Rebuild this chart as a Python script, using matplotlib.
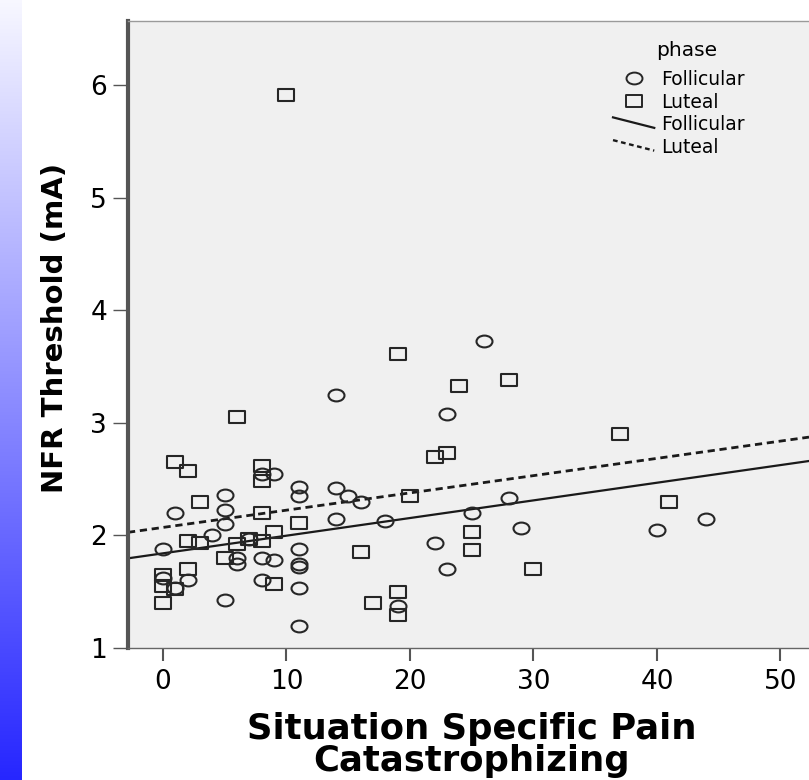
import numpy as np
import matplotlib
matplotlib.use("Agg")
import matplotlib.pyplot as plt
from matplotlib import font_manager
from matplotlib.lines import Line2D
from matplotlib.path import Path
from matplotlib.transforms import Affine2D
from matplotlib.legend_handler import HandlerLine2D

# data
foll_x = [0, 0, 1, 1, 2, 4, 5, 5, 5, 5, 6, 6, 7, 8, 8, 8, 9, 9, 11, 11, 11, 11, 11,
          11, 11, 14, 14, 14, 15, 16, 18, 19, 22, 23, 23, 25, 26, 28, 29, 40, 44]
foll_y = [1.88, 1.62, 2.20, 1.53, 1.60, 2.00, 2.36, 2.23, 2.10, 1.43, 1.80, 1.75,
          1.97, 2.55, 1.80, 1.60, 2.55, 1.78, 2.43, 2.35, 1.88, 1.75, 1.72, 1.53,
          1.195, 3.25, 2.42, 2.15, 2.35, 2.30, 2.13, 1.37, 1.93, 3.08, 1.70, 2.20,
          3.73, 2.33, 2.07, 2.05, 2.15]

lut_x = [0, 0, 0, 1, 1, 2, 2, 2, 3, 3, 5, 6, 6, 7, 8, 8, 8, 8, 9, 9, 10, 11, 16,
         17, 19, 19, 19, 20, 22, 23, 24, 25, 25, 28, 30, 37, 41]
lut_y = [1.65, 1.55, 1.40, 2.65, 1.52, 2.57, 1.95, 1.70, 2.30, 1.93, 1.80, 3.05,
         1.92, 1.97, 2.62, 2.48, 2.20, 1.95, 2.03, 1.57, 5.91, 2.11, 1.85, 1.40,
         3.61, 1.50, 1.29, 2.35, 2.70, 2.73, 3.33, 2.03, 1.87, 3.38, 1.70, 2.90, 2.30]

# fit lines (intercept, slope) as drawn in the chart
foll_fit = (1.841, 0.01568)
lut_fit = (2.071, 0.01534)

x_ticks = [0, 10, 20, 30, 40, 50]
y_ticks = [1, 2, 3, 4, 5, 6]
x_lim = (-2.83, 52.31)
y_lim = (1.0, 6.57)

W, H = 809, 780
plt.rcParams['font.family'] = 'DejaVu Sans'

installed = {f.name for f in font_manager.fontManager.ttflist}
if 'Liberation Sans Narrow' in installed:
    ylab_font, ylab_size = 'Liberation Sans Narrow', 29
else:
    ylab_font, ylab_size = 'DejaVu Sans', 21


class SlopedLine(HandlerLine2D):
    # legend line drawn on a slant, like the SPSS legend
    def create_artists(self, legend, orig_handle, xdescent, ydescent,
                       width, height, fontsize, trans):
        xs = [-xdescent, -xdescent + width]
        ys = [-ydescent + height * 1.0, -ydescent + height * 0.2]
        line = Line2D(xs, ys)
        self.update_prop(line, orig_handle, legend)
        line.set_marker('None')
        line.set_transform(trans)
        return [line]


ellipse = Affine2D().scale(1, 0.74).transform_path(Path.unit_circle())
box = Path([(-1, -0.76), (1, -0.76), (1, 0.76), (-1, 0.76), (-1, -0.76)], closed=True)

fig = plt.figure(figsize=(W / 100, H / 100), dpi=100)

# blue gradient strip on the left edge
strip = fig.add_axes([0, 0, 22 / W, 1])
t = np.linspace(0, 1, 256)[:, None]
top = np.array([0.97, 0.97, 1.0])
bot = np.array([0.15, 0.15, 1.0])
grad = top[None, None, :] * (1 - t[..., None]) + bot[None, None, :] * t[..., None]
strip.imshow(grad, aspect='auto', interpolation='bilinear')
strip.axis('off')

ax = fig.add_axes([128 / W, 1 - 648 / H, 681 / W, 627 / H])
ax.set_facecolor('#f0f0f0')

edge = '#262626'
ax.plot(foll_x, foll_y, linestyle='none', marker=ellipse, markersize=11.5,
        markerfacecolor='none', markeredgecolor=edge, markeredgewidth=1.5, zorder=3)
ax.plot(lut_x, lut_y, linestyle='none', marker=box, markersize=12.2,
        markerfacecolor='none', markeredgecolor=edge, markeredgewidth=1.5, zorder=3)

xx = np.array(x_lim)
ax.plot(xx, foll_fit[0] + foll_fit[1] * xx, color='#1a1a1a', lw=1.6, zorder=2)
ax.plot(xx, lut_fit[0] + lut_fit[1] * xx, color='#1a1a1a', lw=2.0,
        linestyle=(0, (2.6, 1.7)), zorder=2)

ax.set_xlim(*x_lim)
ax.set_ylim(*y_lim)
ax.set_xticks(x_ticks)
ax.set_yticks(y_ticks)

ax.spines['right'].set_visible(False)
ax.spines['left'].set_linewidth(3.0)
ax.spines['left'].set_color('#555555')
ax.spines['top'].set_linewidth(1.0)
ax.spines['top'].set_color('#9a9a9a')
ax.spines['bottom'].set_linewidth(1.0)
ax.spines['bottom'].set_color('#666666')

ax.tick_params(axis='y', direction='out', length=11, width=1.0, color='#555555',
               pad=4, labelsize=19, labelcolor='black')
ax.tick_params(axis='x', direction='out', length=9, width=1.5, color='#555555',
               pad=6, labelsize=19, labelcolor='black')

# legend (title placed as its own text to match the gap below it)
handles = [
    Line2D([], [], linestyle='none', marker=ellipse, markersize=11.5,
           markerfacecolor='none', markeredgecolor=edge, markeredgewidth=1.4),
    Line2D([], [], linestyle='none', marker=box, markersize=12.2,
           markerfacecolor='none', markeredgecolor=edge, markeredgewidth=1.4),
    Line2D([], [], color='#1a1a1a', lw=1.6),
    Line2D([], [], color='#1a1a1a', lw=1.7, linestyle=(0, (2.0, 1.5))),
]
labels = ['Follicular', 'Luteal', 'Follicular', 'Luteal']
leg = ax.legend(handles, labels, loc='upper left',
                bbox_to_anchor=(613 / W, 1 - 70 / H), bbox_transform=fig.transFigure,
                frameon=False, fontsize=13.5,
                handlelength=2.2, handletextpad=0.35, labelspacing=0.2,
                borderpad=0, borderaxespad=0,
                handler_map={handles[2]: SlopedLine(), handles[3]: SlopedLine()})
fig.text(687 / W, 1 - 50 / H, 'phase', ha='center', va='center', fontsize=14.5)

fig.text(55 / W, 1 - 328 / H, 'NFR Threshold (mA)', rotation=90, ha='center',
         va='center', fontsize=ylab_size, fontweight='bold', family=ylab_font)
fig.text(472 / W, 1 - 745 / H, 'Situation Specific Pain\nCatastrophizing',
         ha='center', va='center', fontsize=25.5, fontweight='bold', linespacing=0.9)

fig.savefig('out.png', dpi=100)
